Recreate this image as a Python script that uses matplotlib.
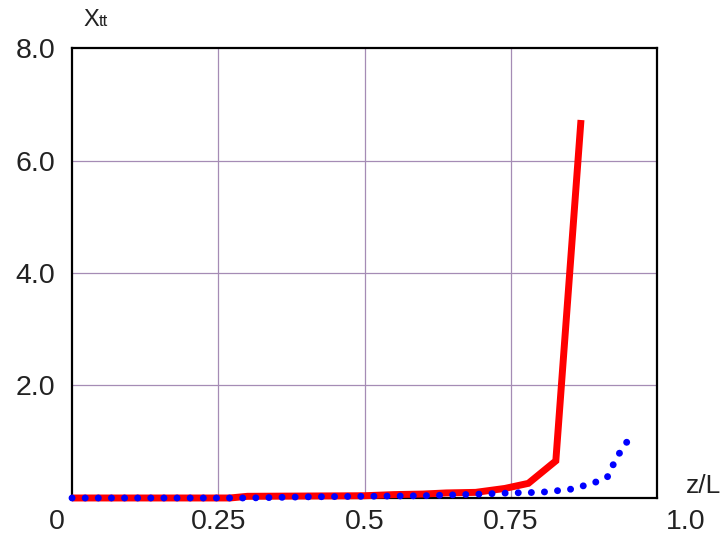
import numpy as np
import matplotlib
matplotlib.use("Agg")
import matplotlib.pyplot as plt

plt.rcParams['font.family'] = ['Liberation Sans', 'DejaVu Sans']

# red curve (solid)
red_z = [0.0, 0.27, 0.30, 0.50, 0.55, 0.60, 0.64, 0.69, 0.74, 0.78, 0.827, 0.87]
red_x = [0.0, 0.0, 0.03, 0.04, 0.06, 0.07, 0.09, 0.10, 0.17, 0.26, 0.66, 6.72]

# blue curve (dotted)
blue_z = [0.0, 0.30, 0.40, 0.60, 0.70, 0.75, 0.80, 0.85, 0.89, 0.915, 0.925, 0.937, 0.952]
blue_x = [0.0, 0.0, 0.02, 0.04, 0.07, 0.09, 0.10, 0.15, 0.26, 0.37, 0.59, 0.82, 1.05]

xticks = [0.25, 0.5, 0.75]
xtick_labels = ["0.25", "0.5", "0.75"]
yticks = [2, 4, 6, 8]
ytick_labels = ["2.0", "4.0", "6.0", "8.0"]

fig = plt.figure(figsize=(7.26, 5.4), dpi=100)
ax = fig.add_axes([0.0992, 0.0778, 0.8058, 0.8333])

ax.set_xlim(0, 1.0)
ax.set_ylim(0, 8.0)

grid_col = '#a58cb5'
for gx in xticks:
    ax.axvline(gx, color=grid_col, lw=0.9, zorder=1)
for gy in yticks[:-1]:
    ax.axhline(gy, color=grid_col, lw=0.9, zorder=1)

ax.plot(red_z, red_x, color='#ff0000', lw=5, solid_capstyle='butt',
        solid_joinstyle='miter', zorder=3, clip_on=False)
ax.plot(blue_z, blue_x, color='#0000ff', lw=5, linestyle=(0, (0.01, 1.88)),
        dash_capstyle='round', zorder=4, clip_on=False)

for s in ax.spines.values():
    s.set_linewidth(1.6)
    s.set_color('black')

fs = 20.5
ax.set_xticks(xticks)
ax.set_xticklabels(xtick_labels, fontsize=fs, color='#222222')
ax.set_yticks(yticks)
ax.set_yticklabels(ytick_labels, fontsize=fs, color='#222222')
ax.tick_params(axis='x', length=0, pad=8)
ax.tick_params(axis='y', length=0, pad=12)

fig.text(57 / 726, 1 - 522 / 540, "0", fontsize=fs, color='#222222', ha='center', va='center')
fig.text(686 / 726, 1 - 522 / 540, "1.0", fontsize=fs, color='#222222', ha='center', va='center')
fig.text(83 / 726, 1 - 26 / 540, "X", fontsize=17, color='#222222', ha='left', va='baseline')
fig.text(99 / 726, 1 - 26 / 540, "tt", fontsize=12, color='#222222', ha='left', va='baseline')
fig.text(686 / 726, 1 - 493 / 540, "z/L", fontsize=19, color='#222222', ha='left', va='baseline')

fig.savefig("out.png", dpi=100)
